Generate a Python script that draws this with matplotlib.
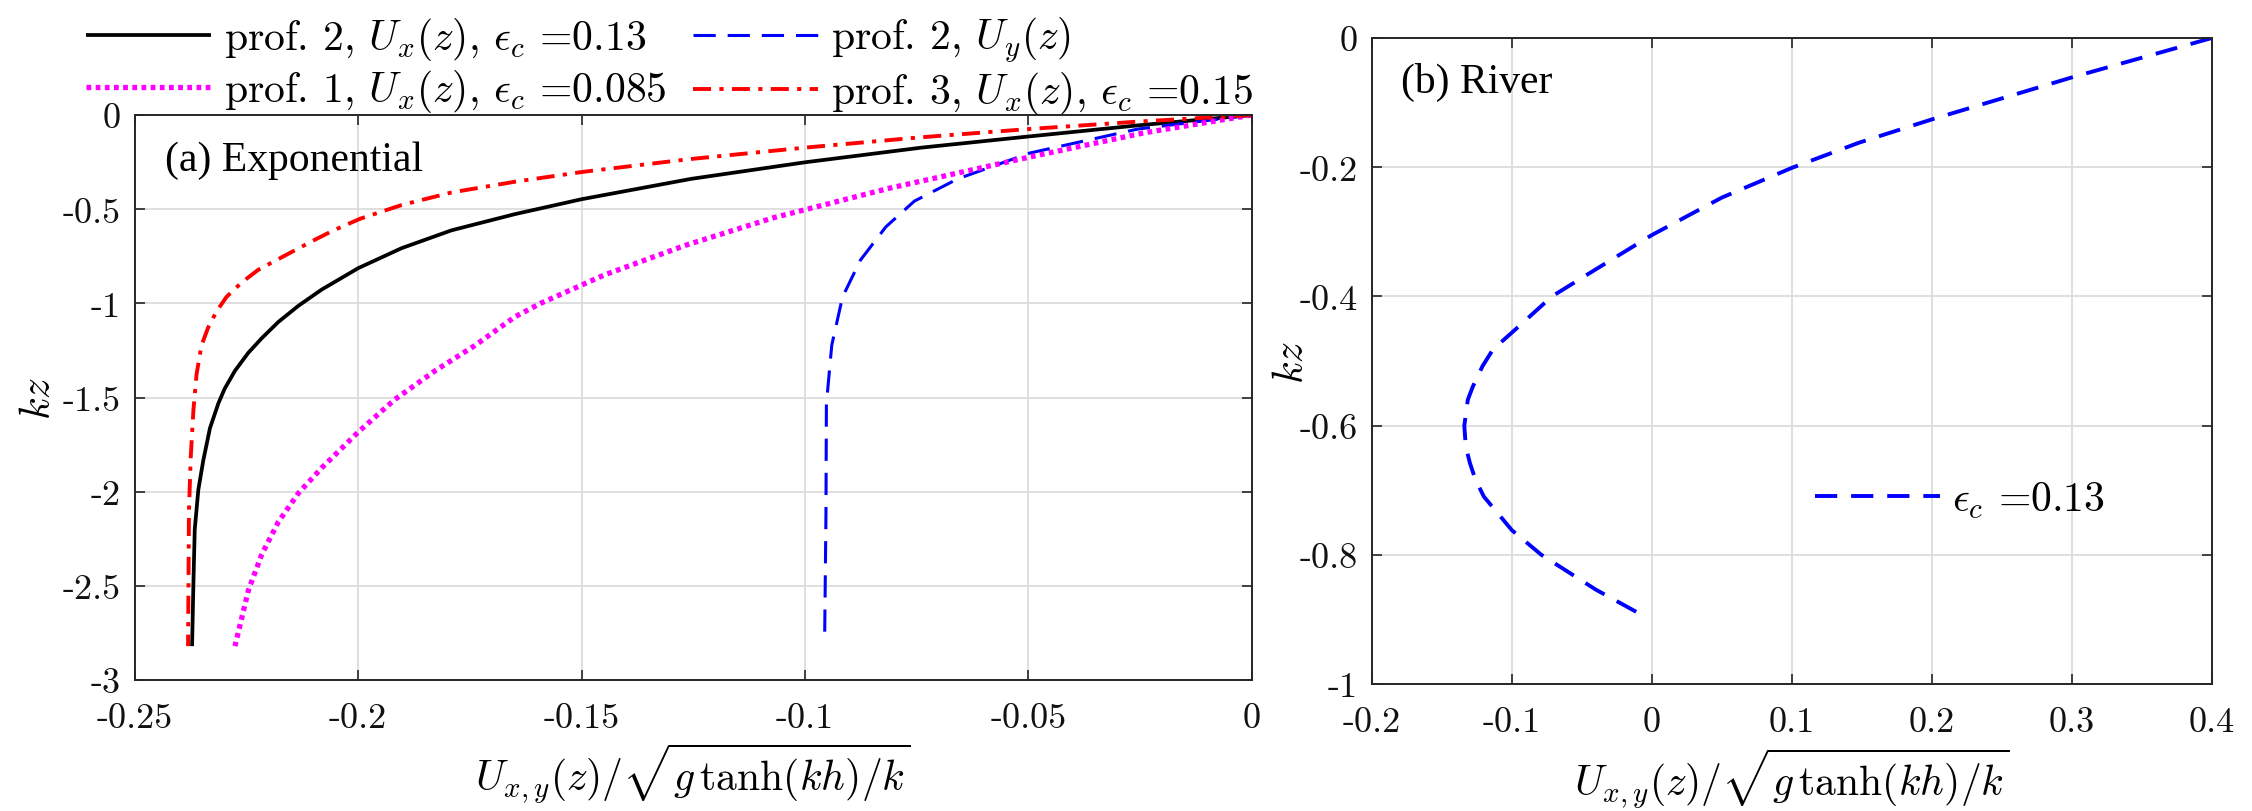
import os
import matplotlib
matplotlib.use("Agg")
import matplotlib.pyplot as plt
from matplotlib import font_manager as fm

# ---------------- data ----------------
# panel (a) Exponential
kz_p2x = [0, -0.055, -0.114, -0.173, -0.251, -0.339, -0.447, -0.526, -0.612, -0.707,
          -0.813, -0.927, -1.013, -1.099, -1.185, -1.262, -1.358, -1.453, -1.53, -1.663,
          -1.835, -1.99, -2.2, -2.486, -2.82]
U_p2x = [0, -0.0255, -0.05, -0.0739, -0.1, -0.1255, -0.15, -0.1649, -0.1791, -0.1903,
         -0.2, -0.2082, -0.2134, -0.2179, -0.2216, -0.2246, -0.2276, -0.2299, -0.2313,
         -0.2332, -0.2347, -0.2358, -0.2366, -0.2369, -0.2372]

kz_p2y = [0, -0.0745, -0.202, -0.339, -0.457, -0.594, -0.771, -0.967, -1.222, -1.535,
          -2.124, -2.80]
U_p2y = [0, -0.0255, -0.0497, -0.0658, -0.0755, -0.0819, -0.0876, -0.0916, -0.094,
         -0.0952, -0.0953, -0.0956]

kz_p1x = [0, -0.094, -0.222, -0.388, -0.545, -0.692, -0.849, -1.0, -1.071, -1.224,
          -1.358, -1.51, -1.683, -1.874, -2.008, -2.161, -2.333, -2.524, -2.82]
U_p1x = [0, -0.024, -0.0495, -0.081, -0.107, -0.1268, -0.1449, -0.1592, -0.1649, -0.1739,
         -0.1828, -0.1918, -0.2, -0.2082, -0.2134, -0.2179, -0.2216, -0.2246, -0.2276]

kz_p3x = [0, -0.035, -0.0745, -0.120, -0.173, -0.235, -0.302, -0.354, -0.411, -0.478,
          -0.550, -0.612, -0.662, -0.746, -0.822, -0.889, -0.966, -1.042, -1.128, -1.224,
          -1.377, -1.568, -1.816, -2.103, -2.82]
U_p3x = [0, -0.0255, -0.05, -0.075, -0.1, -0.1262, -0.1498, -0.1649, -0.1791, -0.1903,
         -0.1995, -0.2055, -0.2097, -0.2164, -0.2224, -0.2261, -0.2295, -0.2317, -0.2336,
         -0.2351, -0.2362, -0.2369, -0.2375, -0.2379, -0.2381]

# panel (b) River
kz_riv = [0, -0.061, -0.126, -0.162, -0.201, -0.247, -0.305, -0.358, -0.4, -0.456,
          -0.482, -0.508, -0.540, -0.56, -0.6, -0.632, -0.658, -0.684, -0.710, -0.762,
          -0.8, -0.854, -0.896]
U_riv = [0.4, 0.3, 0.2, 0.148, 0.1, 0.05, 0.0, -0.04, -0.0714, -0.1, -0.1135, -0.121,
         -0.128, -0.1315, -0.134, -0.133, -0.130, -0.126, -0.120, -0.1, -0.079, -0.040,
         -0.0047]

labels_a = [r'prof. 2, $U_x(z)$, $\epsilon_c$ =0.13',
            r'prof. 2, $U_y(z)$',
            r'prof. 1, $U_x(z)$, $\epsilon_c$ =0.085',
            r'prof. 3, $U_x(z)$, $\epsilon_c$ =0.15']
label_b = r'$\epsilon_c$ =0.13'

xt_a = [-0.25, -0.2, -0.15, -0.1, -0.05, 0]
xtl_a = ['-0.25', '-0.2', '-0.15', '-0.1', '-0.05', '0']
yt_a = [-3, -2.5, -2, -1.5, -1, -0.5, 0]
ytl_a = ['-3', '-2.5', '-2', '-1.5', '-1', '-0.5', '0']
xt_b = [-0.2, -0.1, 0, 0.1, 0.2, 0.3, 0.4]
xtl_b = ['-0.2', '-0.1', '0', '0.1', '0.2', '0.3', '0.4']
yt_b = [-1, -0.8, -0.6, -0.4, -0.2, 0]
ytl_b = ['-1', '-0.8', '-0.6', '-0.4', '-0.2', '0']

xlabel = r'$U_{x,y}(z)/\sqrt{g\,\tanh(kh)/k}$'
ylabel = r'$kz$'

# ---------------- style ----------------
cm_path = os.path.join(matplotlib.get_data_path(), 'fonts', 'ttf', 'cmr10.ttf')
cm_name = 'DejaVu Serif'
if os.path.exists(cm_path):
    fm.fontManager.addfont(cm_path)
    cm_name = fm.FontProperties(fname=cm_path).get_name()

plt.rcParams['font.family'] = [cm_name, 'DejaVu Serif']
plt.rcParams['mathtext.fontset'] = 'cm'
plt.rcParams['axes.unicode_minus'] = False
plt.rcParams['axes.formatter.use_mathtext'] = True
plt.rcParams['lines.scale_dashes'] = False
TFS = 26   # tick labels
LFS = 30   # legend / axis labels / annotations

fig = plt.figure(figsize=(22.52, 8.12), dpi=100)
ax1 = fig.add_axes([0.0599, 0.1613, 0.4959, 0.6958])
ax2 = fig.add_axes([0.6092, 0.1564, 0.3730, 0.7956])

def style(ax, xt, xtl, yt, ytl, xlim, ylim, ylab_x, xlab_y):
    ax.set_xlim(*xlim)
    ax.set_ylim(*ylim)
    ax.set_xticks(xt)
    ax.set_xticklabels(xtl)
    ax.set_yticks(yt)
    ax.set_yticklabels(ytl)
    ax.grid(True, color='#dcdcdc', linewidth=1.3)
    ax.set_axisbelow(True)
    for s in ax.spines.values():
        s.set_linewidth(1.4)
        s.set_color('#262626')
    ax.tick_params(direction='in', length=7, width=1.2, colors='#262626',
                   top=True, right=True, labelsize=TFS, labelcolor='#111111')
    ax.tick_params(axis='x', pad=16)
    ax.tick_params(axis='y', pad=10)
    ax.set_xlabel(xlabel, fontsize=LFS)
    ax.xaxis.set_label_coords(0.5, xlab_y)
    ax.set_ylabel(ylabel, fontsize=LFS)
    ax.yaxis.set_label_coords(ylab_x, 0.5)

style(ax1, xt_a, xtl_a, yt_a, ytl_a, (-0.25, 0), (-3, 0), -0.069, -0.108)
style(ax2, xt_b, xtl_b, yt_b, ytl_b, (-0.2, 0.4), (-1, 0), -0.073, -0.095)

l1, = ax1.plot(U_p2x, kz_p2x, color='black', lw=2.7, solid_capstyle='butt')
l2, = ax1.plot(U_p2y, kz_p2y, color=(0, 0, 1), lw=2.2, dashes=(16, 8.6))
l3, = ax1.plot(U_p1x, kz_p1x, color=(1, 0, 1), lw=3.8, dashes=(3.4, 3.2),
               dash_capstyle='butt')
l4, = ax1.plot(U_p3x, kz_p3x, color=(1, 0, 0), lw=2.8, dashes=(13, 6, 3, 6),
               dash_capstyle='butt')
ax1.text(0.027, 0.92, '(a) Exponential', transform=ax1.transAxes, fontsize=LFS,
         family='Liberation Serif', va='center', ha='left')

lb, = ax2.plot(U_riv, kz_riv, color=(0, 0, 1), lw=2.8, dashes=(16, 10))
ax2.text(0.035, 0.932, '(b) River', transform=ax2.transAxes, fontsize=LFS,
         family='Liberation Serif', va='center', ha='left')

# legend filled column-wise: col 1 = l1, l3 ; col 2 = l2, l4
fig.legend([l1, l3, l2, l4], [labels_a[0], labels_a[2], labels_a[1], labels_a[3]],
           ncol=2, frameon=False, fontsize=LFS,
           loc='upper left', bbox_to_anchor=(86 / 2252, 1 - 16 / 812),
           borderpad=0, handlelength=3.0, handletextpad=0.3,
           columnspacing=0.65, labelspacing=0.12, borderaxespad=0)

ax2.legend([lb], [label_b], frameon=False, fontsize=LFS, loc='center left',
           bbox_to_anchor=(0.527, 0.285), borderpad=0, handlelength=3.0,
           handletextpad=0.3, borderaxespad=0)

fig.savefig('out.png', dpi=100)
